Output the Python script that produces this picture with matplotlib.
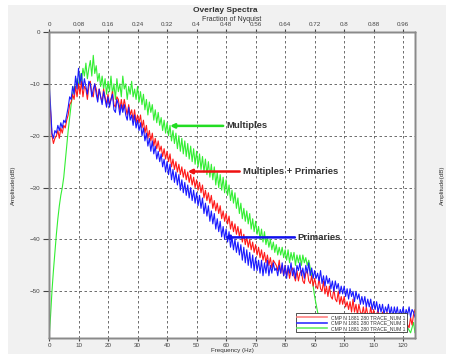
import numpy as np
import matplotlib
matplotlib.use("Agg")
import matplotlib.pyplot as plt
from matplotlib.patches import Rectangle

# ---------------- data (0.5 Hz steps, 0..125 Hz) ----------------
freq_step = 0.5
red_db = [
    -11, -15, -20, -21.5, -20.5, -20, -19, -20.5, -18.5, -19.5, -18, -18.5, -17, -16, -14, -13.5, -12, -13, -10.5, -12.5,
    -10, -12, -9.5, -12.5, -10.5, -11, -13, -10.5, -9.5, -12, -12.5, -10, -11, -13, -11, -12.5, -13.5, -11, -12.5, -14,
    -12, -14, -13, -11.5, -14, -14.5, -12.5, -13, -15, -13, -15, -13, -14.5, -16, -14, -16, -15, -17, -15, -17.5,
    -16, -17.5, -16, -18.5, -17, -19.5, -18, -20.5, -19, -21, -19.5, -22, -20.5, -22.5, -21, -23, -22, -24, -22.5, -24.5,
    -23, -25, -23.5, -26, -24.5, -26.5, -25, -27, -25.5, -27.5, -26, -28, -26.5, -28.5, -27, -29, -27.5, -29.5, -28, -30,
    -28.5, -30.5, -29, -31, -29.5, -32, -30.5, -32.5, -31, -33, -31.5, -34, -32.5, -34.5, -33, -35, -33.5, -36, -34.5, -36.5,
    -35, -37, -35.5, -38, -36.5, -38.5, -37, -39, -37.5, -39.5, -38, -40.5, -39, -41, -39.5, -41.5, -40, -42, -40.5, -42.5,
    -41, -43, -41.5, -43.5, -42, -44, -42.5, -44.5, -43, -45, -43.5, -45.5, -44, -44.5, -45, -46, -44, -46.5, -45, -47,
    -45, -47, -45.5, -47.5, -46, -45.5, -47, -48, -46, -48, -46.5, -46, -48, -48.5, -46.5, -46, -48, -48.5, -47, -49,
    -47.5, -49, -49.5, -47.5, -49.5, -50, -48, -50.5, -49, -51, -49, -51, -51.5, -49.5, -51.5, -52, -50, -52.5, -51, -52.5,
    -51, -53, -52, -53.5, -52, -54, -51.5, -54, -52.5, -54.5, -52.5, -54, -54.5, -53, -55, -53, -54.5, -55, -53, -55,
    -53.5, -55.5, -54.5, -53.5, -55.5, -56, -54, -55.5, -56, -54, -55.5, -56.5, -54.5, -56, -56.5, -54.5, -56, -56.5, -54.5, -56,
    -56.5, -55, -54.5, -56.5, -57, -55, -56.5, -54.5, -53.5, -56, -54,
]
blue_db = [
    -9.5, -14, -19.5, -20.5, -19, -19.5, -18, -19, -17.5, -18.5, -17, -17.5, -16, -14.5, -12.5, -13, -10.5, -12, -8.5, -11,
    -7, -10, -8, -11, -9, -10.5, -12, -9.5, -10, -12.5, -11, -10, -12, -13.5, -11, -12.5, -14, -11.5, -13, -14.5,
    -12.5, -14.5, -13, -12, -15, -15.5, -13, -14, -16, -14, -15.5, -14, -16, -17, -14.5, -17, -16, -18, -16, -18.5,
    -17, -19, -17.5, -20, -18.5, -21, -19.5, -22, -20.5, -23, -21, -23.5, -22, -24.5, -23, -25, -23.5, -26, -24.5, -27,
    -25, -27.5, -25.5, -28.5, -26.5, -29, -27, -29.5, -27.5, -30.5, -28.5, -31, -29, -31.5, -29.5, -32, -30, -32.5, -30.5, -33,
    -31, -33.5, -31.5, -34, -32, -35, -33, -35.5, -33.5, -36.5, -34.5, -37, -35, -38, -36, -38.5, -36.5, -39.5, -37.5, -40,
    -38, -40.5, -38.5, -41.5, -39.5, -42, -40, -42.5, -40.5, -43, -41, -44, -41.5, -44.5, -42, -45, -42.5, -45.5, -43, -46,
    -43.5, -46, -44, -46.5, -44, -47, -44.5, -46.5, -44, -47, -45, -46.5, -44.5, -46, -45.5, -47, -45, -46.5, -44.5, -47,
    -45, -47.5, -45, -46.5, -44.5, -47, -45.5, -47.5, -45, -46, -44.5, -47, -45.5, -47.5, -45, -46.5, -44.5, -47, -45.5, -47.5,
    -46, -47.5, -46.5, -48, -46, -48.5, -47, -49, -47, -48.5, -47.5, -49.5, -48, -50, -48, -49.5, -48.5, -50.5, -49, -50.5,
    -49, -51, -49.5, -51.5, -49.5, -51, -50, -52, -50, -51.5, -50.5, -52.5, -51, -52.5, -51, -53, -51.5, -53, -51.5, -53.5,
    -52, -53.5, -52, -54, -52.5, -54, -52.5, -54.5, -53, -54, -52.5, -54.5, -53, -55, -53, -54.5, -53, -55, -53.5, -54.5,
    -53, -55, -53.5, -54.5, -53, -55, -53.5, -54, -55, -53.5, -54.5,
]
green_db = [
    -59, -55, -50, -46, -42.5, -39, -36, -33.5, -31.5, -30, -28, -25, -22, -19, -16.5, -14, -12, -10.5, -11, -9,
    -10.5, -8, -9.5, -7, -8.5, -6, -9, -7, -5.5, -8.5, -4.5, -8, -6.5, -9.5, -8, -10.5, -8.5, -11, -9, -12,
    -9.5, -11.5, -8.5, -12, -10, -13, -9, -11.5, -10, -12.5, -8.5, -11, -10, -13, -10.5, -12, -9.5, -12.5, -11, -13,
    -10.5, -13.5, -11.5, -14, -12, -15, -13, -16, -13.5, -15.5, -14, -17, -15, -17.5, -15.5, -18, -16.5, -19, -17, -19.5,
    -17.5, -20, -18, -21, -19, -21.5, -19.5, -22.5, -20, -23, -20.5, -23.5, -21, -24, -21.5, -24.5, -22, -25, -22.5, -25.5,
    -23, -26, -23.5, -26.5, -24, -27, -24.5, -27.5, -25, -28, -25.5, -28.5, -26, -29.5, -27, -30, -27.5, -30.5, -28, -31,
    -28.5, -31.5, -29.5, -32.5, -30.5, -33, -31, -34, -32, -35, -33, -36, -34, -36.5, -34.5, -37, -35, -38, -36, -38.5,
    -36.5, -39, -37.5, -40, -38, -40.5, -38.5, -41, -39.5, -41.5, -40, -42, -40.5, -42.5, -41, -43, -41.5, -43, -41.5, -43.5,
    -42, -44, -42, -44.5, -42.5, -44, -42.5, -45, -43, -44.5, -43, -45, -43, -44.5, -43.5, -45, -44, -45.5, -47, -49,
    -51, -52.5, -54, -55, -55.5, -56.5, -56, -57, -56.5, -57.5, -56.5, -57, -57.5, -56.5, -57.5, -57, -56.5, -57.5, -57, -56.5,
    -57.5, -57, -56.5, -57.5, -57, -57.5, -56.5, -57, -57.5, -56.5, -57.5, -57, -57.5, -56.5, -57, -57.5, -57, -56.5, -57.5, -57,
    -57.5, -56.5, -57, -57.5, -57, -56.5, -57.5, -57, -57.5, -56.5, -57, -57.5, -57, -56.5, -57.5, -57, -57.5, -56.5, -57, -57.5,
    -57, -57.5, -56.5, -57, -57.5, -58, -57, -56, -58, -55.5, -57,
]
legend_labels = ["CMP N 1881 280 TRACE_NUM 1", "CMP N 1881 280 TRACE_NUM 1", "CMP N 1881 280 TRACE_NUM 1"]
y_ticks = [0, -10, -20, -30, -40, -50]
x_ticks = [0, 10, 20, 30, 40, 50, 60, 70, 80, 90, 100, 110, 120]
nyquist_ticks = [0, 0.08, 0.16, 0.24, 0.32, 0.4, 0.48, 0.56, 0.64, 0.72, 0.8, 0.88, 0.96]
nyquist_labels = ["0", "0.08", "0.16", "0.24", "0.32", "0.4", "0.48", "0.56", "0.64", "0.72", "0.8", "0.88", "0.96"]
nyquist_hz = 125.0
annotations = [("Multiples", 41, -18.1), ("Multiples + Primaries", 47, -26.9), ("Primaries", 59.5, -39.6)]

# ---------------- plotting ----------------
freq = np.arange(len(red_db)) * freq_step

plt.rcParams['font.family'] = ['Liberation Sans', 'DejaVu Sans']
fig = plt.figure(figsize=(4.51, 3.56), dpi=100)
fig.patch.set_facecolor('white')
fig.patches.append(Rectangle((8 / 451, 2 / 356), 438 / 451, 349 / 356, transform=fig.transFigure,
                             facecolor='#f1f1f1', edgecolor='none', zorder=-10))

ax = fig.add_axes([49 / 451, 1 - 338 / 356, 366 / 451, 306 / 356])
ax.set_facecolor('white')

RED, BLUE, GREEN = '#ff1a1a', '#1a1aff', '#33ee33'
l3, = ax.plot(freq, green_db, color=GREEN, lw=0.8, zorder=3)
l1, = ax.plot(freq, red_db, color=RED, lw=0.8, zorder=4)
l2, = ax.plot(freq, blue_db, color=BLUE, lw=0.8, zorder=5)

ax.set_xlim(0, 124)
ax.set_ylim(-59, 0)
ax.set_xticks(x_ticks)
ax.set_yticks(y_ticks)
ax.grid(True, color='#555555', linestyle=(0, (3, 3)), lw=0.6)
for s in ax.spines.values():
    s.set_color('#8a8a8a')
    s.set_linewidth(1.0)
ax.tick_params(axis='y', labelsize=4.5, colors='#444444', length=4, width=0.8,
               right=True, labelright=True, direction='out', pad=2)
ax.tick_params(axis='x', labelsize=4.5, colors='#444444', length=2.5, width=0.8,
               direction='out', pad=1)
ax.set_xlabel("Frequency (Hz)", fontsize=4.5, color='#333333', labelpad=0)
ax.set_ylabel("Amplitude(dB)", fontsize=4.5, color='#333333', labelpad=10)

axr = ax.twinx()
axr.set_ylim(ax.get_ylim())
axr.set_yticks([])
axr.set_ylabel("Amplitude(dB)", fontsize=4.5, color='#333333', labelpad=18)

axt = ax.twiny()
axt.set_xlim(0, 124)
axt.set_xticks([t * nyquist_hz for t in nyquist_ticks])
axt.set_xticklabels(nyquist_labels)
axt.tick_params(axis='x', labelsize=4.5, colors='#444444', length=2.5, width=0.8, pad=1)
axt.set_xlabel("Fraction of Nyquist", fontsize=5, color='#333333', labelpad=1)
for a in (axr, axt):
    for s in a.spines.values():
        s.set_color('#8a8a8a')
        s.set_linewidth(1.0)

fig.text(0.5, 1 - 10 / 356, "Overlay Spectra", ha='center', va='center',
         fontsize=6, fontweight='bold', color='#333333')

leg = ax.legend([l1, l2, l3], legend_labels, loc='lower right', fontsize=3.6,
                frameon=True, fancybox=False, edgecolor='#333333', framealpha=1,
                borderpad=0.3, handlelength=6, labelspacing=0.1, handletextpad=0.8,
                bbox_to_anchor=(0.985, 0.01))
leg.get_frame().set_linewidth(0.6)
leg_cols = ['#ff8080', '#3030ff', '#66ee66']
for h, c in zip(leg.legend_handles, leg_cols):
    h.set_color(c)
    h.set_linewidth(1.2)
for t in leg.get_texts():
    t.set_color('#333333')
leg.set_zorder(10)

arrow_cols = ['#22dd22', '#ee1111', '#1111ee']
text_dx = [20, 19.6, 25.8]
for (label, xh, yh), col, dx in zip(annotations, arrow_cols, text_dx):
    ax.annotate("", xy=(xh, yh), xytext=(xh + dx - 2, yh),
                arrowprops=dict(arrowstyle='-|>', color=col, lw=1.8, mutation_scale=6,
                                shrinkA=0, shrinkB=0), zorder=8)
    ax.text(xh + dx - 1, yh, label, fontsize=6.8, fontweight='bold', color='#333333',
            ha='left', va='center', zorder=9)

fig.savefig("out.png", dpi=100, facecolor=fig.get_facecolor())
